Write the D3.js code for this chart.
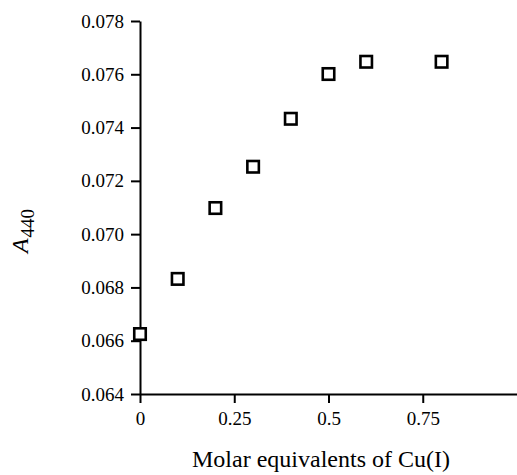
<!DOCTYPE html>
<html>
<head>
<meta charset="utf-8">
<script src="https://cdn.jsdelivr.net/npm/d3@7"></script>
<style>
  html, body { margin: 0; padding: 0; background: #fff; }
  svg { display: block; }
  text { font-family: "Liberation Serif", "Times New Roman", serif; fill: #000; }
</style>
</head>
<body>
<div id="chart"></div>
<script>
// Data
const equivalents = [0, 0.1, 0.2, 0.3, 0.4, 0.5, 0.6, 0.8];
const absorbance = [0.06625, 0.06832, 0.07098, 0.07253, 0.07433, 0.07601, 0.07647, 0.07647];
const xTicks = [0, 0.25, 0.5, 0.75];
const xTickLabels = ["0", "0.25", "0.5", "0.75"];
const yTicks = [0.064, 0.066, 0.068, 0.070, 0.072, 0.074, 0.076, 0.078];

const width = 517, height = 475;
const margin = { top: 21, right: 0, bottom: 81, left: 140 };

const svg = d3.select('#chart').append('svg')
  .attr('width', width)
  .attr('height', height);

const x = d3.scaleLinear()
  .domain([0, 1])
  .range([margin.left, width - margin.right]);

const y = d3.scaleLinear()
  .domain([0.064, 0.078])
  .range([height - margin.bottom, margin.top]);

// Axes
const xAxis = svg.append('g')
  .attr('transform', `translate(0,${y(0.064)})`)
  .call(d3.axisBottom(x)
    .tickValues(xTicks)
    .tickFormat((d, i) => xTickLabels[i])
    .tickSize(9)
    .tickSizeOuter(0)
    .tickPadding(9));

const yAxis = svg.append('g')
  .attr('transform', `translate(${x(0)},0)`)
  .call(d3.axisLeft(y)
    .tickValues(yTicks)
    .tickFormat(d3.format('.3f'))
    .tickSize(9)
    .tickSizeOuter(0)
    .tickPadding(7));

[xAxis, yAxis].forEach(ax => {
  ax.select('.domain').attr('stroke', '#000').attr('stroke-width', 2);
  ax.selectAll('.tick line').attr('stroke', '#000').attr('stroke-width', 2);
  ax.selectAll('.tick text')
    .style('font-family', '"Liberation Serif", "Times New Roman", serif')
    .style('font-size', '19px')
    .attr('fill', '#000');
});

// Points: open squares
const side = 11.5;
svg.append('g')
  .selectAll('rect')
  .data(equivalents.map((e, i) => ({ e, a: absorbance[i] })))
  .join('rect')
    .attr('x', d => x(d.e) - side / 2)
    .attr('y', d => y(d.a) - side / 2)
    .attr('width', side)
    .attr('height', side)
    .attr('fill', '#fff')
    .attr('stroke', '#000')
    .attr('stroke-width', 2.6);

// Axis titles
svg.append('text')
  .attr('x', 321)
  .attr('y', 467)
  .attr('text-anchor', 'middle')
  .style('font-size', '24px')
  .text('Molar equivalents of Cu(I)');

const yLabel = svg.append('text')
  .attr('transform', 'translate(28,231) rotate(-90)')
  .attr('text-anchor', 'middle');
yLabel.append('tspan')
  .style('font-style', 'italic')
  .style('font-size', '24px')
  .text('A');
yLabel.append('tspan')
  .attr('dy', 6)
  .attr('dx', 1)
  .style('font-size', '19px')
  .text('440');
</script>
</body>
</html>
